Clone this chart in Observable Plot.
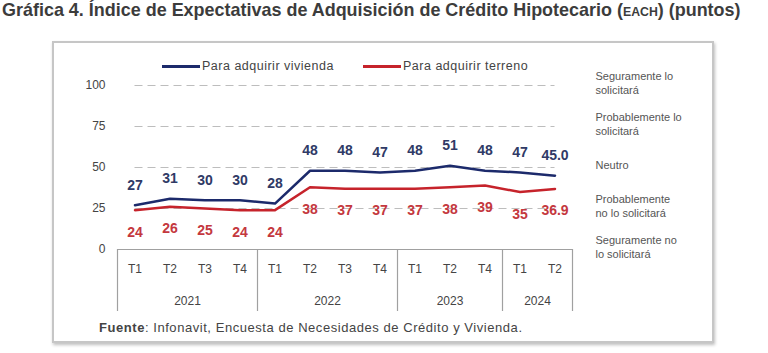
<!DOCTYPE html>
<html>
<head>
<meta charset="utf-8">
<script src="https://cdn.jsdelivr.net/npm/d3@7"></script>
<script src="https://cdn.jsdelivr.net/npm/@observablehq/plot@0.6"></script>
<style>
  html, body { margin: 0; padding: 0; background: #fff; }
  body { position: relative; width: 768px; height: 353px; overflow: hidden; font-family: "Liberation Sans", Arial, sans-serif; }
  #title { position: absolute; left: 2px; top: -1px; font-family: "Liberation Sans", Arial, sans-serif; font-weight: bold; font-size: 19px; color: #3c3c3c; white-space: nowrap; transform: scaleX(0.945); transform-origin: 0 0; }
  #title .sc { font-size: 13px; }
  #box { position: absolute; left: 52px; top: 41px; width: 658px; height: 298px; border: 2px solid #c6c6c6; box-shadow: 1px 2px 3px rgba(0,0,0,0.25); }
  #chart { position: absolute; left: 53px; top: 43px; }
  .leg { position: absolute; top: 59px; font-size: 12.5px; color: #444; white-space: nowrap; letter-spacing: 0.5px; display: flex; align-items: center; }
  .leg .sw { display: inline-block; width: 38px; height: 3px; margin-right: 2px; }
  #fuente { position: absolute; left: 99px; top: 320px; font-size: 13px; color: #444; white-space: nowrap; letter-spacing: 0.55px; }
</style>
</head>
<body>
<div id="title">Gráfica 4. Índice de Expectativas de Adquisición de Crédito Hipotecario (<span class="sc">EACH</span>) (puntos)</div>
<div id="box"></div>
<div id="chart"></div>
<div id="legend"></div>
<div id="fuente"><b>Fuente</b>: Infonavit, Encuesta de Necesidades de Crédito y Vivienda.</div>
<script>
// ---- data ----
const quarters = ["T1","T2","T3","T4","T1","T2","T3","T4","T1","T2","T4","T1","T2"];
const years = ["2021","2021","2021","2021","2022","2022","2022","2022","2023","2023","2023","2024","2024"];
const vivienda = [27,31,30,30,28,48,48,47,48,51,48,47,45.0];
const terreno = [24,26,25,24,24,38,37,37,37,38,39,35,36.9];
const seriesNames = ["Para adquirir vivienda","Para adquirir terreno"];
const seriesColors = ["#1c2a6b","#c6232b"];
const labelColors = ["#2f3a66","#c4383e"];
const yTicks = [0,25,50,75,100];
const gridTicks = [25,50,75,100];
const scaleLabels = ["Seguramente lo\nsolicitará","Probablemente lo\nsolicitará","Neutro","Probablemente\nno lo solicitará","Seguramente no\nlo solicitará"];
const scaleValues = [100,75,50,25,0];

// ---- derived tables ----
const n = quarters.length;
const rows = quarters.map((q,i) => ({i, q, year: years[i], viv: vivienda[i], ter: terreno[i]}));
const fmt = (v,i) => i === n - 1 ? v.toFixed(1) : String(Math.round(v));
const yearGroups = [];
years.forEach((y,i) => {
  const g = yearGroups[yearGroups.length-1];
  if (g && g.year === y) g.end = i; else yearGroups.push({year: y, start: i, end: i});
});
const separators = [-0.5, ...yearGroups.map(g => g.end + 0.5)];
const yearCenters = yearGroups.map(g => ({year: g.year, x: (g.start + g.end)/2}));
const annotations = scaleLabels.map((t,k) => ({t, y: scaleValues[k]}));

const plot = Plot.plot({
  width: 660,
  height: 275,
  marginLeft: 64,
  marginRight: 141,
  marginTop: 42,
  marginBottom: 69,
  style: {fontFamily: "Liberation Sans, Arial, sans-serif", background: "transparent", overflow: "visible"},
  x: {type: "linear", domain: [-0.5, n - 0.5], axis: null},
  y: {domain: [0, 100], axis: null},
  marks: [
    Plot.ruleY(gridTicks, {x1: 0, x2: n - 1, stroke: "#bdbdbd", strokeWidth: 1, strokeDasharray: "8,5"}),
    Plot.axisY({ticks: yTicks, tickSize: 0, tickPadding: 12, fontSize: 12, color: "#444", anchor: "left"}),
    Plot.ruleY([0], {x1: -0.5, x2: n - 0.5, stroke: "#a0a0a0", strokeWidth: 1.2}),
    Plot.ruleX(separators, {y1: 0, y2: 0, insetBottom: -62, stroke: "#a0a0a0", strokeWidth: 1.2}),
    Plot.text(rows, {x: "i", y: 0, text: "q", dy: 20, fontSize: 12, fill: "#444"}),
    Plot.text(yearCenters, {x: "x", y: 0, text: "year", dy: 52, fontSize: 12, fill: "#444"}),
    Plot.line(rows, {x: "i", y: "ter", stroke: seriesColors[1], strokeWidth: 2.5}),
    Plot.line(rows, {x: "i", y: "viv", stroke: seriesColors[0], strokeWidth: 2.5}),
    Plot.text(rows, {x: "i", y: "viv", text: d => fmt(d.viv, d.i), dy: -20, fontSize: 14, fontWeight: "bold", fill: labelColors[0]}),
    Plot.text(rows, {x: "i", y: "ter", text: d => fmt(d.ter, d.i), dy: 22, fontSize: 14, fontWeight: "bold", fill: labelColors[1]}),
    Plot.text(annotations, {x: n - 0.5, y: "y", text: "t", dx: 23, dy: -3, textAnchor: "start", fontSize: 11, lineHeight: 1.3, fill: "#555", style: {letterSpacing: "0.5px"}})
  ]
});
document.getElementById("chart").appendChild(plot);

// legend
const legend = document.getElementById("legend");
const legLeft = [162, 363];
seriesNames.forEach((name, k) => {
  const d = document.createElement("div");
  d.className = "leg";
  d.style.left = legLeft[k] + "px";
  d.innerHTML = `<span class="sw" style="background:${seriesColors[k]}"></span>${name}`;
  legend.appendChild(d);
});
</script>
</body>
</html>
